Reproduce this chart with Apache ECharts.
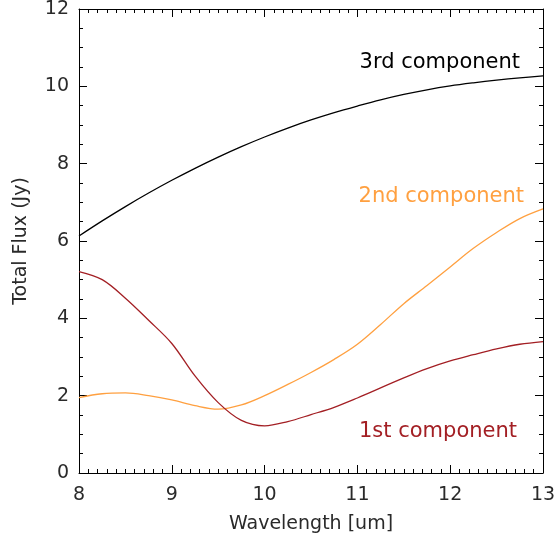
<!DOCTYPE html>
<html>
<head>
<meta charset="utf-8">
<script src="https://cdn.jsdelivr.net/npm/echarts@6/dist/echarts.min.js"></script>
<style>
  html, body { margin: 0; padding: 0; background: #fff; }
  #chart { width: 557px; height: 536px; }
</style>
</head>
<body>
<div id="chart"></div>
<script>
// Wavelength grid (um)
const wavelength = [8.0, 8.25, 8.5, 8.75, 9.0, 9.25, 9.5, 9.75, 10.0, 10.25, 10.5,
                    10.75, 11.0, 11.25, 11.5, 11.75, 12.0, 12.25, 12.5, 12.75, 13.0];

// Total flux (Jy) of each model component
const comp1 = [5.21, 5.0, 4.52, 3.95, 3.35, 2.51, 1.82, 1.36, 1.22, 1.33, 1.51,
               1.70, 1.94, 2.20, 2.46, 2.70, 2.90, 3.06, 3.21, 3.33, 3.40];
const comp2 = [1.95, 2.05, 2.07, 2.0, 1.89, 1.74, 1.65, 1.76, 2.0, 2.29, 2.60,
               2.94, 3.33, 3.84, 4.38, 4.85, 5.33, 5.81, 6.22, 6.58, 6.83];
const comp3 = [6.13, 6.52, 6.89, 7.24, 7.57, 7.88, 8.17, 8.44, 8.69, 8.92, 9.13,
               9.32, 9.49, 9.65, 9.79, 9.91, 10.01, 10.09, 10.16, 10.22, 10.27];

const seriesNames = ['1st component', '2nd component', '3rd component'];
const seriesColors = ['#a31f24', '#ffa040', '#000000'];

const xTicks = [8, 9, 10, 11, 12, 13];
const yTicks = [0, 2, 4, 6, 8, 10, 12];

const FONT = 'DejaVu Sans';

function pairs(ys) {
  return wavelength.map((x, i) => [x, ys[i]]);
}

const chart = echarts.init(document.getElementById('chart'), null, { renderer: 'canvas' });

function axisCommon(showLabels, margin) {
  return {
    axisLine: { show: true, onZero: false, lineStyle: { color: '#000', width: 1 } },
    axisTick: { show: true, inside: true, length: 8, lineStyle: { color: '#000', width: 1 } },
    splitLine: { show: false },
    axisLabel: {
      show: showLabels,
      color: '#2a2a2a',
      fontFamily: FONT,
      fontSize: 19,
      margin: margin
    }
  };
}

const xBase = {
  type: 'value',
  min: xTicks[0],
  max: xTicks[xTicks.length - 1],
  interval: 1,
  minorTick: { show: true, splitNumber: 10, length: 4, lineStyle: { color: '#000', width: 1 } }
};
const yBase = {
  type: 'value',
  min: yTicks[0],
  max: yTicks[yTicks.length - 1],
  interval: 2,
  minorTick: { show: true, splitNumber: 4, length: 4, lineStyle: { color: '#000', width: 1 } }
};

const option = {
  animation: false,
  backgroundColor: '#fff',
  grid: { left: 79, right: 14, top: 9, bottom: 63, containLabel: false, outerBoundsMode: 'none' },
  xAxis: [
    Object.assign({}, xBase, axisCommon(true, 13), {
      position: 'bottom',
      name: 'Wavelength [um]',
      nameLocation: 'middle',
      nameGap: 42,
      nameTextStyle: { color: '#2a2a2a', fontFamily: FONT, fontSize: 19 }
    }),
    Object.assign({}, xBase, axisCommon(false, 10), { position: 'top' })
  ],
  yAxis: [
    Object.assign({}, yBase, axisCommon(true, 10), {
      position: 'left',
      name: 'Total Flux (Jy)',
      nameLocation: 'middle',
      nameGap: 48,
      nameTextStyle: { color: '#2a2a2a', fontFamily: FONT, fontSize: 19 }
    }),
    Object.assign({}, yBase, axisCommon(false, 10), { position: 'right' })
  ],
  series: [comp1, comp2, comp3].map((ys, i) => ({
    name: seriesNames[i],
    type: 'line',
    xAxisIndex: 0,
    yAxisIndex: 0,
    data: pairs(ys),
    smooth: 0.35,
    showSymbol: false,
    lineStyle: { color: seriesColors[i], width: 1.3 },
    z: 3 - i
  })),
  graphic: [
    { type: 'text', right: 37, top: 52,
      style: { text: seriesNames[2], fill: seriesColors[2], font: '21px "' + FONT + '"' } },
    { type: 'text', right: 33, top: 186,
      style: { text: seriesNames[1], fill: seriesColors[1], font: '21px "' + FONT + '"' } },
    { type: 'text', right: 40, top: 421,
      style: { text: seriesNames[0], fill: seriesColors[0], font: '21px "' + FONT + '"' } }
  ]
};

chart.setOption(option);
</script>
</body>
</html>
